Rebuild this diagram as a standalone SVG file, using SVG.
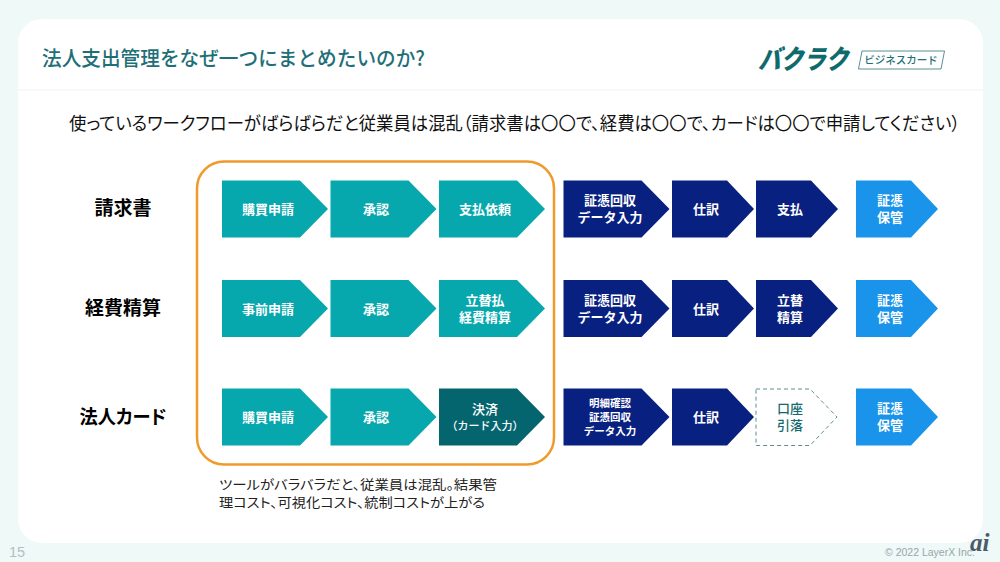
<svg xmlns="http://www.w3.org/2000/svg" width="1000" height="562" viewBox="0 0 1000 562">
<style>
text{font-family:"Noto Sans CJK JP","Noto Sans",sans-serif}
.p{font-feature-settings:"palt"}
.w{fill:#fff;font-size:13px;font-weight:700;text-anchor:middle}
.s{font-size:11px;font-weight:500}
.x{font-size:10.500px}
.l{font-size:19px;font-weight:700;fill:#000;text-anchor:middle}
.t{fill:#06a8ae}.d{fill:#08207f}.b{fill:#1a94ea}.k{fill:#05656f}
</style>
<defs>
<polygon id="a3" points="0,0 78,0 106,28.500 78,57 0,57"/>
<polygon id="a2" points="0,0 55,0 82,28.500 55,57 0,57"/>
</defs>
<rect width="1000" height="562" fill="#eef9f8"/>
<rect x="18" y="19" width="965" height="524" rx="24" fill="#fff"/>
<line x1="18" y1="90" x2="983" y2="90" stroke="#f1f4f4"/>
<text x="42" y="66" font-size="20.500" font-weight="500" fill="#1f6f78" textLength="383" lengthAdjust="spacingAndGlyphs">法人支出管理をなぜ一つにまとめたいのか?</text>
<g id="logo">
<text transform="translate(758,69) skewX(-14)" font-size="27" font-weight="900" fill="#0f6a6e" textLength="90" lengthAdjust="spacingAndGlyphs">バクラク</text>
<polygon points="862,51 944.500,51 941,69 858.500,69" fill="#fff" stroke="#2e7478" stroke-width="0.800"/>
<text x="901" y="64" font-size="10.500" font-weight="500" fill="#1f6f78" text-anchor="middle">ビジネスカード</text>
</g>
<text class="p" x="69" y="130" font-size="18" fill="#111" textLength="891" lengthAdjust="spacingAndGlyphs">使っているワークフローがばらばらだと従業員は混乱（請求書は〇〇で、経費は〇〇で、カードは〇〇で申請してください）</text>
<g id="row-labels">
<text class="l" x="123" y="215">請求書</text>
<text class="l" x="123" y="315">経費精算</text>
<text class="l p" x="123" y="424" textLength="87" lengthAdjust="spacingAndGlyphs">法人カード</text>
</g>
<g id="connectors"></g>
<g id="r1">
<g id="r1n1"><use href="#a3" x="222" y="180.500" class="t"/><text class="w" x="268" y="214">購買申請</text></g>
<g id="r1n2"><use href="#a3" x="330.500" y="180.500" class="t"/><text class="w" x="376" y="214">承認</text></g>
<g id="r1n3"><use href="#a3" x="439" y="180.500" class="t"/><text class="w" x="485" y="214">支払依頼</text></g>
<g id="r1n4"><use href="#a3" x="563.500" y="180.500" class="d"/><text class="w" x="610" y="205">証憑回収</text><text class="w" x="610" y="222">データ入力</text></g>
<g id="r1n5"><use href="#a2" x="672" y="180.500" class="d"/><text class="w" x="706" y="214">仕訳</text></g>
<g id="r1n6"><use href="#a2" x="756" y="180.500" class="d"/><text class="w" x="790" y="214">支払</text></g>
<g id="r1n7"><use href="#a2" x="856" y="180.500" class="b"/><text class="w" x="890" y="205">証憑</text><text class="w" x="890" y="222">保管</text></g>
</g>
<g id="r2">
<g id="r2n1"><use href="#a3" x="222" y="280" class="t"/><text class="w" x="268" y="313.500">事前申請</text></g>
<g id="r2n2"><use href="#a3" x="330.500" y="280" class="t"/><text class="w" x="376" y="313.500">承認</text></g>
<g id="r2n3"><use href="#a3" x="439" y="280" class="t"/><text class="w" x="485" y="304.500">立替払</text><text class="w" x="485" y="321.500">経費精算</text></g>
<g id="r2n4"><use href="#a3" x="563.500" y="280" class="d"/><text class="w" x="610" y="304.500">証憑回収</text><text class="w" x="610" y="321.500">データ入力</text></g>
<g id="r2n5"><use href="#a2" x="672" y="280" class="d"/><text class="w" x="706" y="313.500">仕訳</text></g>
<g id="r2n6"><use href="#a2" x="756" y="280" class="d"/><text class="w" x="790" y="304.500">立替</text><text class="w" x="790" y="321.500">精算</text></g>
<g id="r2n7"><use href="#a2" x="856" y="280" class="b"/><text class="w" x="890" y="304.500">証憑</text><text class="w" x="890" y="321.500">保管</text></g>
</g>
<g id="r3">
<g id="r3n1"><use href="#a3" x="222" y="388.500" class="t"/><text class="w" x="268" y="422">購買申請</text></g>
<g id="r3n2"><use href="#a3" x="330.500" y="388.500" class="t"/><text class="w" x="376" y="422">承認</text></g>
<g id="r3n3"><use href="#a3" x="439" y="388.500" class="k"/><text class="w" style="font-weight:500" x="485" y="414">決済</text><text class="w s" x="485" y="430">（カード入力）</text></g>
<g id="r3n4"><use href="#a3" x="563.500" y="388.500" class="d"/><text class="w x" x="610" y="407">明細確認</text><text class="w x" x="610" y="420.500">証憑回収</text><text class="w x" x="610" y="435">データ入力</text></g>
<g id="r3n5"><use href="#a2" x="672" y="388.500" class="d"/><text class="w" x="706" y="422">仕訳</text></g>
<g id="r3n6"><polygon points="756,389 810,389 837,417 810,445.500 756,445.500" fill="#fff" stroke="#5f8f90" stroke-width="1" stroke-dasharray="4 3"/><text class="w" style="fill:#12696f;font-weight:500" x="790" y="413">口座</text><text class="w" style="fill:#12696f;font-weight:500" x="790" y="430">引落</text></g>
<g id="r3n7"><use href="#a2" x="856" y="388.500" class="b"/><text class="w" x="890" y="413">証憑</text><text class="w" x="890" y="430">保管</text></g>
</g>
<rect id="group" x="197" y="161.500" width="357" height="303" rx="27" fill="none" stroke="#f09a2c" stroke-width="2.500"/>
<g id="note" font-size="13" fill="#222">
<text class="p" x="219" y="489" textLength="278" lengthAdjust="spacingAndGlyphs">ツールがバラバラだと、従業員は混乱。結果管</text>
<text class="p" x="219" y="507" textLength="266" lengthAdjust="spacingAndGlyphs">理コスト、可視化コスト、統制コストが上がる</text>
</g>
<text x="9" y="557" font-size="14.500" fill="#b3c0c0" style="font-family:'Liberation Sans',sans-serif">15</text>
<text x="885" y="556" font-size="10.500" fill="#9aa5a6" style="font-family:'Liberation Sans',sans-serif">© 2022 LayerX Inc.</text>
<text x="970" y="551" font-size="25" font-style="italic" font-weight="700" fill="#4a5a66" style="font-family:'Liberation Serif',serif">ai</text>
</svg>
